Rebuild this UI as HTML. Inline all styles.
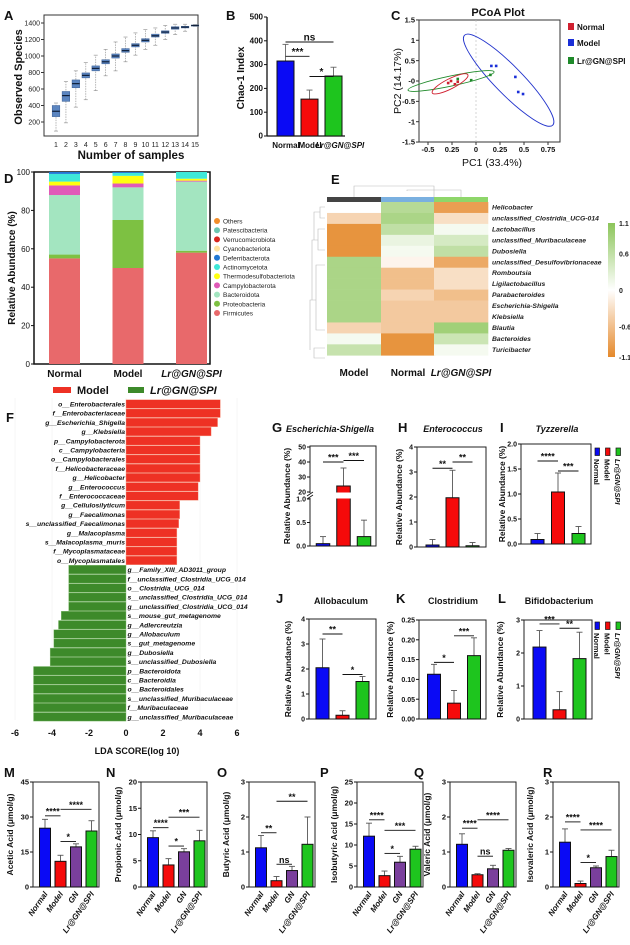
<!DOCTYPE html>
<html><head><meta charset="utf-8"><style>
html,body{margin:0;padding:0;background:#fff;}
svg{display:block;font-family:"Liberation Sans",Arial,sans-serif;}
</style></head><body>
<svg id="fig" width="630" height="945" viewBox="0 0 630 945">
<rect x="0" y="0" width="630" height="945" fill="#fff"/>
<g font-weight="bold" font-size="13" fill="#111">
<text x="4" y="20">A</text>
<text x="226" y="20">B</text>
<text x="391" y="20">C</text>
<text x="4" y="183">D</text>
<text x="331" y="184">E</text>
<text x="6" y="422">F</text>
<text x="272" y="432">G</text>
<text x="398" y="432">H</text>
<text x="500" y="432">I</text>
<text x="276" y="603">J</text>
<text x="396" y="603">K</text>
<text x="498" y="603">L</text>
<text x="4" y="777">M</text>
<text x="106" y="777">N</text>
<text x="217" y="777">O</text>
<text x="320" y="777">P</text>
<text x="414" y="777">Q</text>
<text x="543" y="777">R</text>
</g>
<g font-weight="bold" fill="#111">
<text x="131" y="159" font-size="11.5" text-anchor="middle">Number of samples</text>
<text transform="translate(22,77) rotate(-90)" font-size="11" text-anchor="middle">Observed Species</text>
<text transform="translate(244,78) rotate(-90)" font-size="10" text-anchor="middle">Chao-1 Index</text>
<text x="498" y="16" font-size="11" text-anchor="middle">PCoA Plot</text>
<text x="492" y="166" font-size="10.5" text-anchor="middle" font-weight="normal">PC1 (33.4%)</text>
<text transform="translate(401,81) rotate(-90)" font-size="10.5" text-anchor="middle" font-weight="normal">PC2 (14.17%)</text>
<text transform="translate(15,268) rotate(-90)" font-size="10" text-anchor="middle">Relative Abundance (%)</text>
<text x="137" y="754" font-size="9" text-anchor="middle">LDA SCORE(log 10)</text>
</g>
<g id="dyn"></g>
</svg>
<script>
const NS='http://www.w3.org/2000/svg';
const svg=document.getElementById('dyn');
function mk(tag,a,p){const e=document.createElementNS(NS,tag);for(const k in a)e.setAttribute(k,a[k]);(p||svg).appendChild(e);return e;}
function tx(x,y,s,a,p){const e=mk('text',Object.assign({x:x,y:y},a||{}),p);e.textContent=s;return e;}

/* ---------- Panel A data ---------- */
const aSamples=[1,2,3,4,5,6,7,8,9,10,11,12,13,14,15];
const aMed=[330,520,665,765,850,930,1000,1065,1130,1190,1245,1290,1340,1350,1370];
const aQ1=[265,450,615,735,820,905,975,1045,1110,1170,1230,1275,1325,1340,1365];
const aQ3=[400,570,710,795,880,955,1025,1090,1150,1210,1265,1305,1355,1360,1375];
const aMin=[90,190,380,470,580,760,820,930,1010,1080,1130,1200,1260,1300,1360];
const aMax=[430,690,820,920,1010,1080,1170,1230,1280,1320,1340,1370,1385,1385,1380];
const aTicks=[200,400,600,800,1000,1200,1400];

/* ---------- Panel B data ---------- */
const bGroups=['Normal','Model','Lr@GN@SPI'];
const bVals=[315,155,252];
const bErr=[70,38,37];
const bTicks=[0,100,200,300,400,500];

/* ---------- Panel C data ---------- */
const cBlueX=[0.16,0.21,0.41,0.44,0.49];
const cBlueY=[0.37,0.37,0.10,-0.27,-0.32];
const cGreenX=[-0.19,-0.05,0.15];
const cGreenY=[0.05,0.02,0.15];
const cRedX=[-0.29,-0.19,-0.22,-0.26];
const cRedY=[-0.05,-0.02,-0.08,0.0];
const cXTicks=[-0.5,-0.25,0,0.25,0.5,0.75];
const cXTickLabels=['-0.5','0.25','0','0.25','0.5','0.75'];
const cYTicks=[1.5,1,0.5,0,-0.5,-1,-1.5];
const cYTickLabels=['1.5','1','0.5','-0','-0.5','-1','-1.5'];

/* ---------- Panel D data ---------- */
const dGroups=['Normal','Model','Lr@GN@SPI'];
const dPhyla=['Firmicutes','Proteobacteria','Bacteroidota','Campylobacterota','Thermodesulfobacteriota','Actinomycetota','Deferribacterota','Cyanobacteriota','Verrucomicrobiota','Patescibacteria','Others'];
const dFirm=[55,50,58];
const dProt=[2,25,1];
const dBact=[31,17,36];
const dCamp=[5,2,0.5];
const dTherm=[2,4,1];
const dActi=[4,1.5,3.5];
const dDefe=[1,0.5,0];
const dCyan=[0,0,0];
const dVerr=[0,0,0];
const dPate=[0,0,0];
const dOth=[0,0,0];
const dTicks=[0,20,40,60,80,100];

/* ---------- Panel E data ---------- */
const eCols=['Model','Normal','Lr@GN@SPI'];
const eRows=['Helicobacter','unclassified_Clostridia_UCG-014','Lactobacillus','unclassified_Muribaculaceae','Dubosiella','unclassified_Desulfovibrionaceae','Romboutsia','Ligilactobacillus','Parabacteroides','Escherichia-Shigella','Klebsiella','Blautia','Bacteroides','Turicibacter'];
const eModel=[0.0,-0.4,-1.0,-1.0,-1.0,0.8,0.8,0.8,0.8,0.8,0.8,-0.4,0.1,0.55];
const eNormal=[0.7,0.8,0.6,0.2,0.1,-0.1,-0.6,-0.6,-0.4,-0.5,-0.5,-0.5,-1.0,-1.0];
const eLr=[-0.9,-0.3,0.1,0.4,0.6,-0.8,-0.3,-0.3,-0.6,-0.5,-0.5,0.9,0.5,0.1];
const eTicks=[1.1,0.6,0,-0.6,-1.1];

/* ---------- Panel F data ---------- */
const fRedLabels=['o__Enterobacterales','f__Enterobacteriaceae','g__Escherichia_Shigella','g__Klebsiella','p__Campylobacterota','c__Campylobacteria','o__Campylobacterales','f__Helicobacteraceae','g__Helicobacter','g__Enterococcus','f__Enterococcaceae','g__Cellulosilyticum','g__Faecalimonas','s__unclassified_Faecalimonas','g__Malacoplasma','s__Malacoplasma_muris','f__Mycoplasmataceae','o__Mycoplasmatales'];
const fRedVals=[5.1,5.1,4.95,4.6,4.0,4.0,4.0,4.0,4.0,3.9,3.9,2.9,2.9,2.85,2.75,2.75,2.75,2.75];
const fGreenLabels=['g__Family_XIII_AD3011_group','f__unclassified_Clostridia_UCG_014','o__Clostridia_UCG_014','s__unclassified_Clostridia_UCG_014','g__unclassified_Clostridia_UCG_014','s__mouse_gut_metagenome','g__Adlercreutzia','g__Allobaculum','s__gut_metagenome','g__Dubosiella','s__unclassified_Dubosiella','p__Bacteroidota','c__Bacteroidia','o__Bacteroidales','s__unclassified_Muribaculaceae','f__Muribaculaceae','g__unclassified_Muribaculaceae'];
const fGreenVals=[-3.1,-3.1,-3.1,-3.1,-3.1,-3.5,-3.65,-3.9,-3.9,-4.1,-4.1,-5.0,-5.0,-5.0,-5.0,-5.0,-5.0];
const fTicks=[-6,-4,-2,0,2,4,6];

/* ---------- Panels G-L data ---------- */
const ghiGroups=['Normal','Model','Lr@GN@SPI'];
const gVals=[0.05,24,0.2];   const gErr=[0.15,12,0.35];
const hVals=[0.08,1.97,0.05]; const hErr=[0.22,1.1,0.13];
const iVals=[0.09,1.04,0.21]; const iErr=[0.12,0.38,0.14];
const jVals=[2.05,0.15,1.5];  const jErr=[1.15,0.18,0.2];
const kVals=[0.113,0.04,0.16]; const kErr=[0.025,0.032,0.045];
const lVals=[2.18,0.28,1.83]; const lErr=[0.5,0.55,0.8];

/* ---------- Panels M-R data ---------- */
const scfaGroups=['Normal','Model','GN','Lr@GN@SPI'];
const mVals=[25.2,11,17.2,24]; const mErr=[3.8,2.6,1.3,4.4];
const nVals=[9.4,4.2,6.7,8.8]; const nErr=[1.3,1.2,0.6,2];
const oVals=[1.12,0.18,0.47,1.22]; const oErr=[0.35,0.12,0.12,0.78];
const pVals=[12.1,2.7,5.9,9]; const pErr=[3.1,1.1,1.4,0.7];
const qVals=[1.22,0.35,0.52,1.05]; const qErr=[0.3,0.03,0.1,0.05];
const rVals=[1.28,0.1,0.55,0.87]; const rErr=[0.38,0.07,0.05,0.18];

/* ====================== Panel A ====================== */
(function(){
  const g=mk('g',{});
  
  
  const X=i=>56+(i-1)*(139/14), Y=v=>122-(v-200)*(99/1200);
  const fr=mk('rect',{x:44,y:15,width:154,height:121,fill:'none',stroke:'#333','stroke-width':1},g);
  
  
  aTicks.forEach(t=>{
    mk('line',{x1:41,x2:44,y1:Y(t),y2:Y(t),stroke:'#333'},g);
    const l=tx(40,Y(t)+2.5,String(t),{'font-size':7,'text-anchor':'end',fill:'#222'},g);
    
    
  });
  aSamples.forEach((s,k)=>{
    const x=X(s);
    const l=tx(x,147,String(s),{'font-size':7,'text-anchor':'middle',fill:'#222'},g);
    
    
    mk('line',{x1:x,x2:x,y1:Y(aMin[k]),y2:Y(aMax[k]),stroke:'#999','stroke-dasharray':'1.5,1','stroke-width':0.7},g);
    mk('line',{x1:x-2,x2:x+2,y1:Y(aMax[k]),y2:Y(aMax[k]),stroke:'#999','stroke-width':0.7},g);
    mk('line',{x1:x-2,x2:x+2,y1:Y(aMin[k]),y2:Y(aMin[k]),stroke:'#999','stroke-width':0.7},g);
    const b=mk('rect',{x:x-3.8,y:Y(aQ3[k]),width:7.6,height:Math.max(1,Y(aQ1[k])-Y(aQ3[k])),fill:'#5b85c0',stroke:'#3b5f95','stroke-width':0.5},g);
    
    
    mk('line',{x1:x-3.8,x2:x+3.8,y1:Y(aMed[k]),y2:Y(aMed[k]),stroke:'#10203a','stroke-width':1.2},g);
  });
})();

/* ====================== generic bar panel ====================== */
function sigMark(g,x1,x2,y,lab,fs){
  const l=mk('line',{x1:x1,x2:x2,y1:y,y2:y,stroke:'#111','stroke-width':0.9},g);
  
  
  const t=tx((x1+x2)/2,y-1.5,lab,{'font-size':fs||9,'font-weight':'bold','text-anchor':'middle',fill:'#111'},g);
  
  
}
function barPanel(o){
  const g=mk('g',{});
  
  
  const Y=o.yfn||(v=>o.y0-v/o.max*(o.y0-o.yTop));
  const cx=i=>o.start+i*o.step;
  if(o.frame){
    const f=mk('rect',{x:o.x0,y:o.yTop,width:o.x1-o.x0,height:o.y0-o.yTop,fill:'none',stroke:'#222','stroke-width':1},g);
    
    
  } else {
    mk('line',{x1:o.x0,x2:o.x0,y1:o.yTop,y2:o.y0,stroke:'#111','stroke-width':1.3},g);
    mk('line',{x1:o.x0,x2:o.x1,y1:o.y0,y2:o.y0,stroke:'#111','stroke-width':1.3},g);
  }
  o.ticks.forEach((t,k)=>{
    mk('line',{x1:o.x0-3,x2:o.x0,y1:Y(t),y2:Y(t),stroke:'#111'},g);
    const l=tx(o.x0-4,Y(t)+2.6,o.tickLabels?o.tickLabels[k]:String(t),{'font-size':o.tfs||7.5,'font-weight':'bold','text-anchor':'end',fill:'#111'},g);
    
    
  });
  o.vals.forEach((v,i)=>{
    const x=cx(i);
    const top=Y(v+o.errs[i]);
    mk('line',{x1:x,x2:x,y1:top,y2:Y(v),stroke:o.errColor||'#555','stroke-width':0.9},g);
    mk('line',{x1:x-3,x2:x+3,y1:top,y2:top,stroke:o.errColor||'#555','stroke-width':0.9},g);
    const b=mk('rect',{x:x-o.bw/2,y:Y(v),width:o.bw,height:Math.max(0.5,o.y0-Y(v)),fill:o.colors[i],stroke:'#111','stroke-width':1},g);
    
    
  });
  (o.sig||[]).forEach(s=>sigMark(g,cx(s[0]),cx(s[1]),Y(s[3]),s[2],o.sfs));
  if(o.ylab){
    const t=tx(0,0,o.ylab,{'font-size':o.yfs||8.5,'font-weight':'bold','text-anchor':'middle',fill:'#111',transform:'translate('+o.ylabX+','+((o.yTop+o.y0)/2)+') rotate(-90)'},g);
    
    
  }
  if(o.title){
    const t=tx(o.titleX,o.titleY,o.title,{'font-size':9,'font-weight':'bold','font-style':o.titleItalic?'italic':'normal','text-anchor':'middle',fill:'#111'},g);
    
    
  }
  if(o.xlabRot){
    o.groups.forEach((gname,i)=>{
      const x=cx(i)+3;
      const t=tx(0,0,gname,{'font-size':8,'font-weight':'bold','font-style':'italic','text-anchor':'end',fill:'#111',transform:'translate('+x+','+(o.y0+7)+') rotate(-55)'},g);
      
      
    });
  }
  return g;
}

/* ====================== Panel B ====================== */
barPanel({name:'panel-b-chao1-bar-chart',x0:267,x1:345,yTop:17,y0:136,max:500,ticks:bTicks,vals:bVals,errs:bErr,groups:bGroups,
  colors:['#0a0af5','#f50a0a','#1ec51e'],start:285.5,step:24,bw:17,errColor:'#666',tfs:8,
  sig:[[0,2,'ns',395],[0,1,'***',335],[1,2,'*',250]],sfs:10});
(function(){
  const xs=[286,310,334],labs=['Normal','Model','Lr@GN@SPI'];
  labs.forEach((s,i)=>{
    const t=tx(xs[i]+(i==2?6:0),148,s,{'font-size':8,'font-weight':'bold','font-style':i==2?'italic':'normal','text-anchor':'middle',fill:'#111'});
    
    
  });
})();

/* ====================== Panel C ====================== */
(function(){
  const g=mk('g',{});
  
  
  const X=v=>476+v*96, Y=v=>81-v*40.7;
  const f=mk('rect',{x:419,y:20,width:141,height:122,fill:'none',stroke:'#333'},g);
  
  
  mk('line',{x1:X(0),x2:X(0),y1:20,y2:142,stroke:'#bbb','stroke-dasharray':'2,2','stroke-width':0.6},g);
  cXTicks.forEach((t,k)=>{
    mk('line',{x1:X(t),x2:X(t),y1:142,y2:145,stroke:'#333'},g);
    const l=tx(X(t),152,cXTickLabels[k],{'font-size':7.5,'font-weight':'bold','text-anchor':'middle',fill:'#111'},g);
    
    
  });
  cYTicks.forEach((t,k)=>{
    mk('line',{x1:416,x2:419,y1:Y(t),y2:Y(t),stroke:'#333'},g);
    const l=tx(415,Y(t)+2.6,cYTickLabels[k],{'font-size':7.5,'font-weight':'bold','text-anchor':'end',fill:'#111'},g);
    
    
  });
  const e1=mk('ellipse',{cx:X(0.34),cy:Y(0.02),rx:63,ry:14,fill:'none',stroke:'#2233cc','stroke-width':0.9,transform:'rotate(45.6 '+X(0.34)+' '+Y(0.02)+')'},g);
  
  
  const e2=mk('ellipse',{cx:X(-0.26),cy:Y(0),rx:44,ry:5,fill:'none',stroke:'#1f8a2a','stroke-width':0.9,transform:'rotate(-12 '+X(-0.26)+' '+Y(0)+')'},g);
  
  
  const e3=mk('ellipse',{cx:X(-0.27),cy:Y(-0.07),rx:20,ry:5,fill:'none',stroke:'#d02030','stroke-width':0.9,transform:'rotate(-27 '+X(-0.27)+' '+Y(-0.07)+')'},g);
  
  
  [[cBlueX,cBlueY,'#1a2fd8','model-point'],[cGreenX,cGreenY,'#1f8a2a','lr-point'],[cRedX,cRedY,'#d02030','normal-point']].forEach(s=>{
    s[0].forEach((v,i)=>{
      const p=mk('rect',{x:X(v)-1.3,y:Y(s[1][i])-1.3,width:2.6,height:2.6,fill:s[2]},g);
      
      
    });
  });
  const leg=[['#d02030','Normal',27,false],['#1a2fd8','Model',43,false],['#1f8a2a','Lr@GN@SPI',61,true]];
  leg.forEach(l=>{
    const r=mk('rect',{x:568,y:l[2]-4,width:6,height:7,fill:l[0]},g);
    
    
    const t=tx(577,l[2]+3,l[1],{'font-size':8,'font-weight':'bold',fill:'#111'},g);
    
    
  });
})();

/* ====================== Panel D ====================== */
(function(){
  const g=mk('g',{});
  
  
  const Y=v=>364-v*1.92;
  const colors=['#e8696b','#7dc142','#a3e5c0','#e05ab8','#ffff10','#3ee8d8','#2078d4','#ffe3a0','#d8261e','#6cc5b0','#f28e2b'];
  const series=[dFirm,dProt,dBact,dCamp,dTherm,dActi,dDefe,dCyan,dVerr,dPate,dOth];
  const xs=[64.5,128,191.5];
  mk('rect',{x:34,y:172,width:176,height:192,fill:'none',stroke:'#111','stroke-width':1.5},g);
  dTicks.forEach(t=>{
    mk('line',{x1:31,x2:34,y1:Y(t),y2:Y(t),stroke:'#111'},g);
    const l=tx(30,Y(t)+3,String(t),{'font-size':8,'text-anchor':'end',fill:'#111'},g);
    
    
  });
  dGroups.forEach((grp,i)=>{
    let cum=0;
    series.forEach((s,k)=>{
      const v=s[i]; if(!v)return;
      const r=mk('rect',{x:xs[i]-15.5,y:Y(cum+v),width:31,height:Y(cum)-Y(cum+v),fill:colors[k]},g);
      
      
      cum+=v;
    });
    const t=tx(xs[i],377,grp,{'font-size':10,'font-weight':'bold','font-style':i==2?'italic':'normal','text-anchor':'middle',fill:'#111'},g);
    
    
  });
  const order=['Others','Patescibacteria','Verrucomicrobiota','Cyanobacteriota','Deferribacterota','Actinomycetota','Thermodesulfobacteriota','Campylobacterota','Bacteroidota','Proteobacteria','Firmicutes'];
  order.forEach((n,k)=>{
    const ci=dPhyla.indexOf(n);
    const y=221+k*9.2;
    const c=mk('circle',{cx:217,cy:y,r:3,fill:colors[ci]},g);
    
    
    const t=tx(223,y+2.5,n,{'font-size':6.5,fill:'#222'},g);
    
    
  });
})();

/* ====================== Panel E ====================== */
(function(){
  const g=mk('g',{});
  
  
  const neg=[229,137,43],pos=[140,197,90];
  function col(v){
    const t=Math.min(1,Math.abs(v)/1.1),c=v<0?neg:pos;
    return 'rgb('+c.map(x=>Math.round(255+(x-255)*t)).join(',')+')';
  }
  const cx=[327,381,434],cw=54,ry=202,rh=10.95;
  const cols=[eModel,eNormal,eLr];
  const topc=['#444','#7ab0e0','#8ed66a'];
  cols.forEach((arr,c)=>{
    const tb=mk('rect',{x:cx[c],y:197,width:cw,height:5,fill:topc[c]},g);
    
    
    arr.forEach((v,r)=>{
      const cell=mk('rect',{x:cx[c],y:ry+r*rh,width:cw+0.3,height:rh+0.3,fill:col(v)},g);
      
      
    });
    const t=tx(cx[c]+cw/2,376,eCols[c],{'font-size':10,'font-weight':'bold','font-style':c==2?'italic':'normal','text-anchor':'middle',fill:'#111'},g);
    
    
  });
  eRows.forEach((n,r)=>{
    const t=tx(492,ry+r*rh+7.5,n,{'font-size':6.8,'font-weight':'bold','font-style':'italic',fill:'#222'},g);
    
    
  });
  const d='#bbb';
  mk('path',{d:'M354 197 V186 H434 V197 M407 191 V190 H461 V197 M434 190 V186',fill:'none',stroke:d,'stroke-width':0.6},g);
  mk('path',{d:'M325 207 H320 V218 H325 M320 212 H314 V240 M325 229 H318 V250 H325 M318 240 H312 V300 M325 265 H316 V330 H325 M316 300 H310 V350 M325 348 H314 V358 H325',fill:'none',stroke:d,'stroke-width':0.6},g);
  const gd=mk('linearGradient',{id:'cbar',x1:0,y1:0,x2:0,y2:1},mk('defs',{},g));
  [['0','rgb(140,197,90)'],['0.5','#fff'],['1','rgb(229,137,43)']].forEach(s=>mk('stop',{offset:s[0],'stop-color':s[1]},gd));
  const cb=mk('rect',{x:608,y:223,width:7,height:134,fill:'url(#cbar)'},g);
  
  
  eTicks.forEach(t=>{
    const y=290-t/1.1*67;
    const l=tx(619,y+3,String(t),{'font-size':7,'font-weight':'bold',fill:'#222'},g);
    
    
  });
})();

/* ====================== Panel F ====================== */
(function(){
  const g=mk('g',{});
  
  
  const X=v=>126+v*18.5, row=i=>404+i*9.2;
  fTicks.forEach(t=>{
    mk('line',{x1:X(t),x2:X(t),y1:398,y2:720,stroke:'#eee','stroke-width':0.5},g);
    const l=tx(X(t),736,String(t),{'font-size':9,'font-weight':'bold','text-anchor':'middle',fill:'#111'},g);
    
    
  });
  fRedVals.forEach((v,i)=>{
    const b=mk('rect',{x:X(0),y:row(i)-4.3,width:X(v)-X(0),height:8.6,fill:'#ee3124',stroke:'#f7a08a','stroke-width':0.4},g);
    
    
    const t=tx(X(0)-1,row(i)+2.5,fRedLabels[i],{'font-size':6.8,'font-weight':'bold','font-style':'italic','text-anchor':'end',fill:'#111'},g);
    
    
  });
  fGreenVals.forEach((v,k)=>{
    const i=k+fRedVals.length;
    const b=mk('rect',{x:X(v),y:row(i)-4.3,width:X(0)-X(v),height:8.6,fill:'#3d8a2a',stroke:'#8cc07a','stroke-width':0.4},g);
    
    
    const t=tx(X(0)+1.5,row(i)+2.5,fGreenLabels[k],{'font-size':6.8,'font-weight':'bold','font-style':'italic',fill:'#111'},g);
    
    
  });
  const r1=mk('rect',{x:53,y:387,width:18,height:6,fill:'#ee3124'},g);
  
  
  const t1=tx(77,394,'Model',{'font-size':11,'font-weight':'bold',fill:'#111'},g);
  
  
  const r2=mk('rect',{x:128,y:387,width:16,height:6,fill:'#3d8a2a'},g);
  
  
  const t2=tx(150,394,'Lr@GN@SPI',{'font-size':11,'font-weight':'bold','font-style':'italic',fill:'#111'},g);
  
  
})();

/* ====================== Panels G-L ====================== */
const c3=['#0a0af5','#f50a0a','#1ec51e'];
(function(){
  const yG=v=>v<=1?546-v*47:492-(v-20)*1.5;
  const g=barPanel({name:'panel-g-escherichia-bar-chart',x0:310,x1:376,yTop:446,y0:546,max:50,yfn:yG,frame:true,
    ticks:[0,0.5,1,20,30,40,50],tickLabels:['0.0','0.5','1.0','20','30','40','50'],tfs:7,
    vals:gVals,errs:gErr,groups:ghiGroups,colors:c3,start:323,step:20.5,bw:13.5,
    sig:[[0,1,'***',40],[1,2,'***',41]],
    ylab:'Relative Abundance (%)',ylabX:290,title:'Escherichia-Shigella',titleX:330,titleY:432,titleItalic:true});
  mk('rect',{x:336,y:492.5,width:16,height:6,fill:'#fff'},g);
  mk('rect',{x:307,y:493,width:6,height:5,fill:'#fff'},g);
  mk('path',{d:'M307 496 L313 492 M307 499 L313 495',stroke:'#111','stroke-width':0.8},g);
})();
barPanel({name:'panel-h-enterococcus-bar-chart',x0:417,x1:486,yTop:447,y0:547,max:4,frame:true,ticks:[0,1,2,3,4],tfs:7,
  vals:hVals,errs:hErr,groups:ghiGroups,colors:c3,start:432.5,step:20,bw:13,
  sig:[[0,1,'**',3.15],[1,2,'**',3.4]],ylab:'Relative Abundance (%)',ylabX:402,title:'Enterococcus',titleX:453,titleY:432,titleItalic:true});
barPanel({name:'panel-i-tyzzerella-bar-chart',x0:521,x1:591,yTop:444,y0:544,max:2,frame:true,ticks:[0,0.5,1,1.5,2],tickLabels:['0.0','0.5','1.0','1.5','2.0'],tfs:7,
  vals:iVals,errs:iErr,groups:ghiGroups,colors:c3,start:537.5,step:20.5,bw:13,
  sig:[[0,1,'****',1.66],[1,2,'***',1.46]],ylab:'Relative Abundance (%)',ylabX:505,title:'Tyzzerella',titleX:557,titleY:432,titleItalic:true});
barPanel({name:'panel-j-allobaculum-bar-chart',x0:309,x1:376,yTop:619,y0:719,max:4,frame:true,ticks:[0,1,2,3,4],tfs:7,
  vals:jVals,errs:jErr,groups:ghiGroups,colors:c3,start:322.5,step:20,bw:13,
  sig:[[0,1,'**',3.4],[1,2,'*',1.78]],ylab:'Relative Abundance (%)',ylabX:291,title:'Allobaculum',titleX:341,titleY:604});
barPanel({name:'panel-k-clostridium-bar-chart',x0:419,x1:486,yTop:620,y0:719,max:0.25,frame:true,ticks:[0,0.05,0.1,0.15,0.2,0.25],tickLabels:['0.00','0.05','0.10','0.15','0.20','0.25'],tfs:7,
  vals:kVals,errs:kErr,groups:ghiGroups,colors:c3,start:434,step:20,bw:13,
  sig:[[0,1,'*',0.143],[1,2,'***',0.21]],ylab:'Relative Abundance (%)',ylabX:393,title:'Clostridium',titleX:453,titleY:604});
barPanel({name:'panel-l-bifidobacterium-bar-chart',x0:524,x1:592,yTop:620,y0:719,max:3,frame:true,ticks:[0,1,2,3],tfs:7,
  vals:lVals,errs:lErr,groups:ghiGroups,colors:c3,start:539.5,step:20,bw:13,
  sig:[[0,1,'***',2.88],[1,2,'**',2.75]],ylab:'Relative Abundance (%)',ylabX:503,title:'Bifidobacterium',titleX:559,titleY:604});
[448,622].forEach(y0=>{
  const g=mk('g',{});
  
  
  ['Normal','Model','Lr@GN@SPI'].forEach((s,i)=>{
    const x=597+i*10.5;
    const r=mk('rect',{x:x-2,y:y0,width:4.5,height:7.5,fill:c3[i],stroke:'#111','stroke-width':0.7},g);
    
    
    const t=tx(0,0,s,{'font-size':7.5,'font-weight':'bold','font-style':i==2?'italic':'normal',fill:'#111',transform:'translate('+(x-3)+','+(y0+11)+') rotate(90)'},g);
    
    
  });
});

/* ====================== Panels M-R ====================== */
const c4=['#0a0af5','#f50a0a','#7a3f9c','#1ec51e'];
function scfa(name,x0,max,ticks,vals,errs,sig,ylab){
  barPanel({name:name,x0:x0,x1:x0+66,yTop:782,y0:887,max:max,frame:true,ticks:ticks,tfs:7.5,
    vals:vals,errs:errs,groups:scfaGroups,colors:c4,start:x0+12,step:15.5,bw:11,errColor:'#555',
    sig:sig,sfs:9,ylab:ylab,ylabX:x0-20,yfs:8.5,xlabRot:true});
}
scfa('panel-m-acetic-acid-chart',33,45,[0,15,30,45],mVals,mErr,[[0,1,'****',30.5],[1,2,'*',19.5],[1,3,'****',33.3]],'Acetic Acid (μmol/g)');
scfa('panel-n-propionic-acid-chart',141,20,[0,5,10,15,20],nVals,nErr,[[0,1,'****',11.3],[1,2,'*',7.8],[1,3,'***',13.3]],'Propionic Acid (μmol/g)');
scfa('panel-o-butyric-acid-chart',249,3,[0,1,2,3],oVals,oErr,[[0,1,'**',1.55],[1,2,'ns',0.65],[1,3,'**',2.45]],'Butyric Acid (μmol/g)');
scfa('panel-p-isobutyric-acid-chart',357,25,[0,5,10,15,20,25],pVals,pErr,[[0,1,'****',16],[1,2,'*',8],[1,3,'***',13.5]],'Isobutyric Acid (μmol/g)');
scfa('panel-q-valeric-acid-chart',450,3,[0,1,2,3],qVals,qErr,[[0,1,'****',1.68],[1,2,'ns',0.88],[1,3,'****',1.92]],'Valeric Acid (μmol/g)');
scfa('panel-r-isovaleric-acid-chart',553,3,[0,1,2,3],rVals,rErr,[[0,1,'****',1.86],[1,2,'*',0.7],[1,3,'****',1.63]],'Isovaleric Acid (μmol/g)');
</script>
</body></html>
